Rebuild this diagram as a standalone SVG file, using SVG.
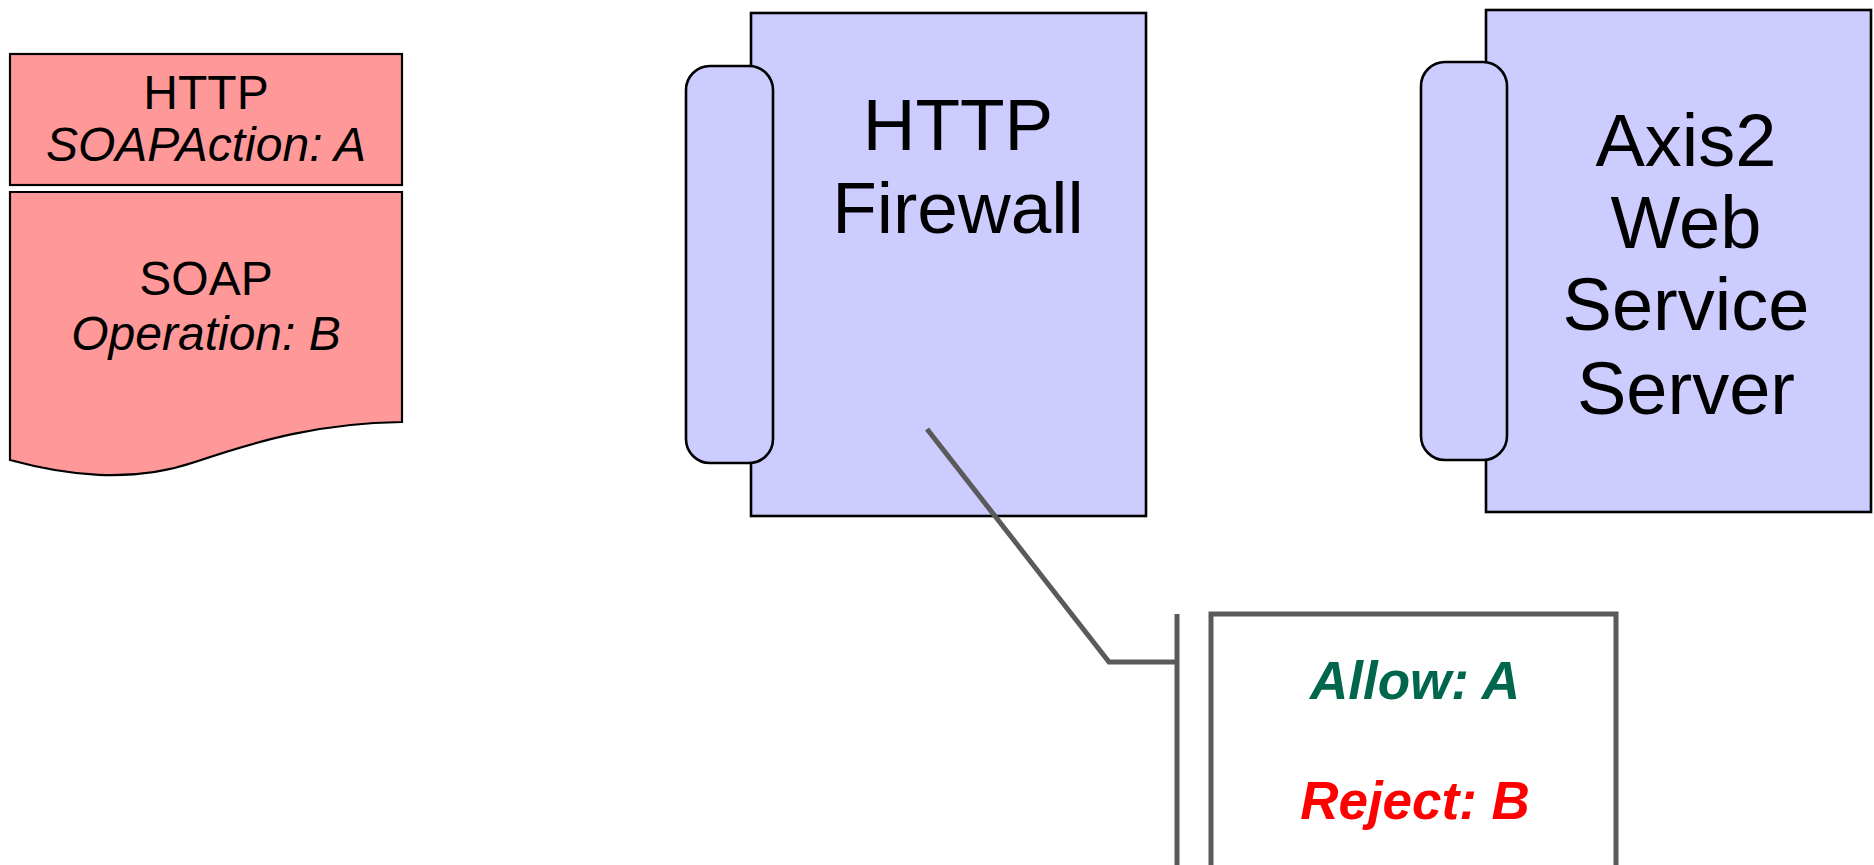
<svg xmlns="http://www.w3.org/2000/svg" width="1874" height="865" viewBox="0 0 1874 865">
<style>
.doc{fill:#ff9999;stroke:#000;stroke-width:2.2}
.srv{fill:#ccccff;stroke:#000;stroke-width:2.6}
.t{font-family:"Liberation Sans",Arial,sans-serif;text-anchor:middle;fill:#000}
.conn{fill:none;stroke:#5a5a5a;stroke-width:5}
.rule{font-family:"Liberation Sans",Arial,sans-serif;text-anchor:middle;font-weight:bold;font-style:italic;font-size:53px}
</style>
<rect width="1874" height="865" fill="#fff"/>
<g id="message">
<rect class="doc" x="10" y="54" width="392" height="131"/>
<path class="doc" d="M10,192 L402,192 L402,422 C320,423 260,440 195,462 C130,484 65,475 10,460 Z"/>
<text class="t" x="206" y="109" font-size="48">HTTP</text>
<text class="t" x="206" y="161" font-size="48" font-style="italic">SOAPAction: A</text>
<text class="t" x="206" y="295" font-size="48">SOAP</text>
<text class="t" x="206" y="350" font-size="48" font-style="italic">Operation: B</text>
</g>
<g id="firewall">
<rect class="srv" x="751" y="13" width="395" height="503"/>
<rect class="srv" x="686" y="66" width="87" height="397" rx="24" ry="24"/>
<text class="t" x="958" y="150" font-size="73">HTTP</text>
<text class="t" x="958" y="233" font-size="73">Firewall</text>
</g>
<g id="server">
<rect class="srv" x="1486" y="10" width="385" height="502"/>
<rect class="srv" x="1421" y="62" width="86" height="398" rx="24" ry="24"/>
<text class="t" x="1686" y="166" font-size="74">Axis2</text>
<text class="t" x="1686" y="248" font-size="74">Web</text>
<text class="t" x="1686" y="330" font-size="74">Service</text>
<text class="t" x="1686" y="414" font-size="74">Server</text>
</g>
<g id="connectors">
<path class="conn" d="M927,429 L1109,662 L1177,662"/>
<line class="conn" x1="1177" y1="614" x2="1177" y2="870"/>
</g>
<g id="rules">
<path class="conn" d="M1211,870 L1211,614 L1616,614 L1616,870"/>
<text class="rule" x="1415" y="699" fill="#00664d">Allow: A</text>
<text class="rule" x="1415" y="819" fill="#ff0000">Reject: B</text>
</g>
</svg>
